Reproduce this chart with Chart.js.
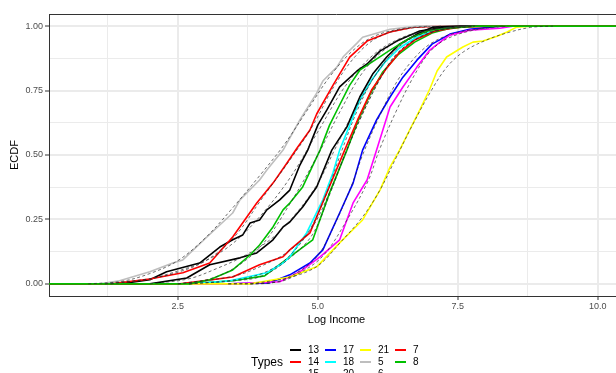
<!DOCTYPE html>
<html><head><meta charset="utf-8">
<script src="https://cdn.jsdelivr.net/npm/chart.js@4"></script>
<style>
html,body{margin:0;padding:0;background:#fff;width:616px;height:373px;overflow:hidden;font-family:"Liberation Sans",Arial,sans-serif;}
#wrap{position:absolute;left:0;top:0;width:624px;height:373px;}
#legend{position:absolute;left:0;top:0;width:616px;height:373px;pointer-events:none;}
.lt{position:absolute;font-size:12px;color:#000;line-height:14px;}
.lk{position:absolute;width:11px;height:2px;}
.lx{position:absolute;font-size:10px;color:#000;line-height:12px;}
</style></head>
<body>
<div id="wrap"><canvas id="c" width="624" height="373"></canvas></div>
<div id="legend"></div>
<script>
// ---- data ----
const type13 = [[0,0],[1.46,0],[2.0,0.016],[2.30,0.047],[2.89,0.081],[3.25,0.143],[3.48,0.171],[3.66,0.190],[3.79,0.236],[3.96,0.248],[4.09,0.287],[4.32,0.326],[4.5,0.364],[4.68,0.461],[4.82,0.519],[5.0,0.616],[5.16,0.674],[5.39,0.764],[5.70,0.826],[5.88,0.853],[6.11,0.903],[6.41,0.942],[6.82,0.981],[7.27,0.996],[7.71,1],[11,1]];
const type14 = [[0,0],[1.29,0],[1.6,0.008],[2.0,0.019],[2.59,0.043],[3.07,0.081],[3.48,0.182],[3.91,0.314],[4.20,0.391],[4.45,0.469],[4.63,0.527],[4.86,0.597],[4.98,0.659],[5.27,0.770],[5.57,0.880],[5.88,0.942],[6.29,0.977],[6.70,0.996],[7.18,1],[11,1]];
const type15 = [[0,0],[2.71,0],[3.48,0.012],[4.05,0.031],[4.5,0.105],[4.91,0.171],[5.21,0.353],[5.52,0.519],[5.71,0.628],[5.93,0.733],[6.16,0.822],[6.43,0.888],[6.73,0.938],[7.04,0.973],[7.36,0.992],[7.80,1],[11,1]];
const type17 = [[0,0],[3.43,0],[4.14,0.004],[4.5,0.035],[4.86,0.081],[5.09,0.132],[5.39,0.275],[5.63,0.391],[5.80,0.519],[6.05,0.636],[6.29,0.725],[6.52,0.802],[6.77,0.868],[7.04,0.930],[7.36,0.969],[7.71,0.988],[8.25,1],[11,1]];
const type18 = [[0,0],[2.71,0],[3.43,0.012],[4.09,0.043],[4.38,0.081],[4.5,0.105],[4.80,0.198],[5.09,0.326],[5.27,0.430],[5.39,0.519],[5.57,0.616],[5.75,0.713],[5.96,0.791],[6.20,0.860],[6.46,0.915],[6.73,0.953],[7.0,0.977],[7.27,0.992],[7.71,1],[11,1]];
const type20 = [[0,0],[3.43,0],[4.32,0.008],[4.68,0.047],[5.04,0.105],[5.39,0.171],[5.63,0.314],[5.88,0.403],[6.05,0.519],[6.29,0.686],[6.52,0.764],[6.77,0.841],[7.0,0.907],[7.23,0.946],[7.36,0.965],[7.71,0.984],[8.25,0.992],[8.48,1],[11,1]];
const type21 = [[0,0],[3.79,0],[4.5,0.027],[4.98,0.066],[5.39,0.159],[5.80,0.248],[6.11,0.364],[6.29,0.453],[6.46,0.519],[6.64,0.597],[6.82,0.674],[7.0,0.756],[7.13,0.826],[7.30,0.880],[7.59,0.919],[7.77,0.938],[7.95,0.942],[8.20,0.961],[8.38,0.977],[8.55,0.996],[8.79,1],[11,1]];
const type5 = [[0,0],[1.11,0],[1.46,0.012],[2.0,0.047],[2.41,0.081],[2.59,0.093],[3.02,0.182],[3.48,0.275],[3.61,0.326],[3.96,0.403],[4.09,0.442],[4.38,0.519],[4.68,0.636],[4.98,0.740],[5.09,0.787],[5.34,0.841],[5.45,0.880],[5.70,0.934],[5.80,0.957],[6.29,0.988],[6.77,1],[11,1]];
const type6 = [[0,0],[2.0,0],[2.66,0.023],[3.07,0.074],[3.61,0.101],[3.91,0.12],[4.20,0.171],[4.38,0.221],[4.5,0.240],[4.73,0.298],[4.98,0.376],[5.25,0.519],[5.52,0.609],[5.75,0.725],[5.98,0.814],[6.23,0.880],[6.46,0.930],[6.77,0.969],[7.05,0.996],[7.54,1],[11,1]];
const type7 = [[0,0],[2.54,0],[3.48,0.027],[3.96,0.074],[4.38,0.105],[4.5,0.132],[4.86,0.198],[5.16,0.353],[5.48,0.519],[5.71,0.636],[5.96,0.752],[6.23,0.837],[6.46,0.899],[6.73,0.946],[7.09,0.981],[7.54,0.996],[8.07,1],[11,1]];
const type8 = [[0,0],[2.71,0],[3.07,0.016],[3.48,0.054],[3.79,0.112],[3.96,0.151],[4.20,0.221],[4.38,0.287],[4.5,0.314],[4.73,0.376],[5.04,0.519],[5.21,0.616],[5.39,0.694],[5.57,0.771],[5.75,0.829],[6.02,0.868],[6.29,0.907],[6.64,0.953],[7.0,0.984],[7.54,0.996],[7.89,1],[11,1]];

// fitted (dashed) curves
const fit13 = [[1.3,0],[2.0,0.02],[2.5,0.05],[3.0,0.09],[3.5,0.16],[4.0,0.27],[4.5,0.41],[5.0,0.59],[5.5,0.77],[6.0,0.89],[6.5,0.955],[7.0,0.985],[7.6,1]];
const fit14 = [[1.2,0],[2.0,0.02],[2.5,0.045],[3.0,0.09],[3.5,0.18],[4.0,0.33],[4.5,0.48],[4.9,0.61],[5.3,0.77],[5.7,0.89],[6.1,0.96],[6.6,0.99],[7.2,1]];
const fit15 = [[2.7,0],[3.5,0.012],[4.0,0.03],[4.5,0.10],[4.9,0.19],[5.2,0.34],[5.5,0.51],[5.8,0.66],[6.1,0.79],[6.4,0.89],[6.8,0.955],[7.3,0.99],[7.8,1]];
const fit17 = [[3.4,0],[4.2,0.005],[4.6,0.04],[5.0,0.11],[5.3,0.23],[5.6,0.38],[5.8,0.50],[6.1,0.65],[6.4,0.78],[6.7,0.87],[7.0,0.93],[7.4,0.97],[7.9,0.99],[8.3,1]];
const fit18 = [[2.7,0],[3.5,0.015],[4.0,0.04],[4.4,0.09],[4.8,0.19],[5.1,0.32],[5.4,0.50],[5.7,0.67],[6.0,0.80],[6.4,0.91],[6.8,0.965],[7.3,0.99],[7.8,1]];
const fit20 = [[3.4,0],[4.3,0.008],[4.7,0.045],[5.1,0.11],[5.5,0.24],[5.9,0.40],[6.1,0.52],[6.4,0.67],[6.7,0.80],[7.0,0.90],[7.3,0.95],[7.8,0.985],[8.4,1]];
const fit21 = [[3.8,0],[4.5,0.025],[5.0,0.07],[5.4,0.16],[5.8,0.26],[6.1,0.36],[6.4,0.49],[6.7,0.62],[7.0,0.74],[7.3,0.84],[7.6,0.90],[8.0,0.945],[8.4,0.975],[8.8,0.995],[9.2,1]];
const fit5 = [[0.9,0],[1.5,0.01],[2.0,0.04],[2.5,0.09],[3.0,0.18],[3.5,0.30],[4.0,0.43],[4.4,0.54],[4.8,0.67],[5.2,0.80],[5.6,0.90],[6.0,0.96],[6.5,0.99],[7.0,1]];
const fit6 = [[2.0,0],[2.7,0.02],[3.2,0.06],[3.7,0.11],[4.2,0.18],[4.6,0.27],[5.0,0.39],[5.3,0.52],[5.6,0.65],[6.0,0.80],[6.4,0.91],[6.8,0.97],[7.3,0.995],[7.7,1]];
const fit7 = [[2.5,0],[3.5,0.03],[4.0,0.07],[4.5,0.13],[4.9,0.22],[5.2,0.35],[5.5,0.51],[5.8,0.66],[6.1,0.79],[6.4,0.89],[6.8,0.955],[7.2,0.985],[7.8,1]];
const fit8 = [[2.5,0],[3.0,0.015],[3.5,0.06],[4.0,0.15],[4.5,0.31],[5.0,0.50],[5.4,0.67],[5.8,0.82],[6.2,0.91],[6.6,0.96],[7.0,0.985],[7.6,1]];

const typeNames = ['13','14','15','17','18','20','21','5','6','7','8'];
const typeColors = ['#000000','#FF0000','#00C000','#0000FF','#00FFFF','#FF00FF','#FFFF00','#BEBEBE','#000000','#FF0000','#00C000'];
const typeData = [type13,type14,type15,type17,type18,type20,type21,type5,type6,type7,type8];
const fitData = [fit13,fit14,fit15,fit17,fit18,fit20,fit21,fit5,fit6,fit7,fit8];

const xMajor = [2.5,5,7.5,10];
const xMinor = [1.25,3.75,6.25,8.75];
const xLabels = ['2.5','5.0','7.5','10.0'];
const yMajor = [0,0.25,0.5,0.75,1];
const yMinor = [0.125,0.375,0.625,0.875];
const yLabels = ['0.00','0.25','0.50','0.75','1.00'];

// ---- chart ----
const n = typeNames.length;
const datasets = [];
typeData.forEach((d,i)=>{
  datasets.push({label:typeNames[i],data:d,borderColor:typeColors[i],borderWidth:1.6,pointRadius:0,tension:0,fill:false,order:n-i,borderJoinStyle:'round'});
});
fitData.forEach((d,i)=>{
  datasets.push({label:'fit'+typeNames[i],data:d,borderColor:'rgba(40,40,40,0.85)',borderWidth:0.8,borderDash:[3,2.5],pointRadius:0,tension:0.35,fill:false,order:0});
});

const isIn = (arr,v)=>arr.some(a=>Math.abs(a-v)<1e-9);
const panelBorder = {
  id:'panelBorder',
  afterDraw(chart){
    const {ctx,chartArea:a} = chart;
    ctx.save();
    ctx.strokeStyle='#333333';ctx.lineWidth=1;
    ctx.beginPath();ctx.moveTo(a.left,a.top+0.5);ctx.lineTo(a.right,a.top+0.5);ctx.stroke();
    ctx.restore();
  }
};

const font = {family:'"Liberation Sans", Arial, sans-serif'};
new Chart(document.getElementById('c'),{
  type:'line',
  data:{datasets},
  plugins:[panelBorder],
  options:{
    responsive:false,animation:false,
    layout:{padding:{left:0,right:0,top:14,bottom:43}},
    plugins:{legend:{display:false},tooltip:{enabled:false}},
    scales:{
      x:{type:'linear',min:0.2,max:10.468,
        afterBuildTicks(s){s.ticks=[...xMinor,...xMajor].sort((a,b)=>a-b).map(v=>({value:v}));},
        afterFit(s){s.height=34;},
        ticks:{autoSkip:false,maxRotation:0,padding:1,color:'#4D4D4D',font:{...font,size:9},
          callback:(v)=>{const k=xMajor.findIndex(m=>Math.abs(m-v)<1e-9);return k>=0?xLabels[k]:'';}},
        grid:{color:'#EBEBEB',lineWidth:c=>c.tick&&isIn(xMajor,c.tick.value)?2:1,
          tickLength:4,tickColor:c=>c.tick&&isIn(xMajor,c.tick.value)?'#333333':'rgba(0,0,0,0)',tickWidth:1},
        border:{display:true,color:'#333333',width:1},
        title:{display:true,text:'Log Income',color:'#000',font:{...font,size:11},padding:{top:0,bottom:3}}
      },
      y:{type:'linear',min:-0.047,max:1.047,
        afterBuildTicks(s){s.ticks=[...yMinor,...yMajor].sort((a,b)=>a-b).map(v=>({value:v}));},
        afterFit(s){s.width=49;},
        ticks:{autoSkip:false,padding:2,color:'#4D4D4D',font:{...font,size:9},
          callback:(v)=>{const k=yMajor.findIndex(m=>Math.abs(m-v)<1e-9);return k>=0?yLabels[k]:'';}},
        grid:{color:'#EBEBEB',lineWidth:c=>c.tick&&isIn(yMajor,c.tick.value)?2:1,
          tickLength:4,tickColor:c=>c.tick&&isIn(yMajor,c.tick.value)?'#333333':'rgba(0,0,0,0)',tickWidth:1},
        border:{display:true,color:'#333333',width:1},
        title:{display:true,text:'ECDF',color:'#000',font:{...font,size:11},padding:{top:8,bottom:0}}
      }
    }
  }
});

// ---- legend (column-major, clipped at bottom like reference) ----
const lg = document.getElementById('legend');
const t = document.createElement('div');t.className='lt';t.textContent='Types';
t.style.left='251px';t.style.top='355px';lg.appendChild(t);
typeNames.forEach((nm,i)=>{
  const col=Math.floor(i/3),row=i%3;
  const ky=349+row*12, kx=290+col*35;
  const k=document.createElement('div');k.className='lk';k.style.background=typeColors[i];
  k.style.left=kx+'px';k.style.top=ky+'px';lg.appendChild(k);
  const tx=document.createElement('div');tx.className='lx';tx.textContent=nm;
  tx.style.left=(kx+18)+'px';tx.style.top=(ky-5)+'px';lg.appendChild(tx);
});
</script>
</body></html>
